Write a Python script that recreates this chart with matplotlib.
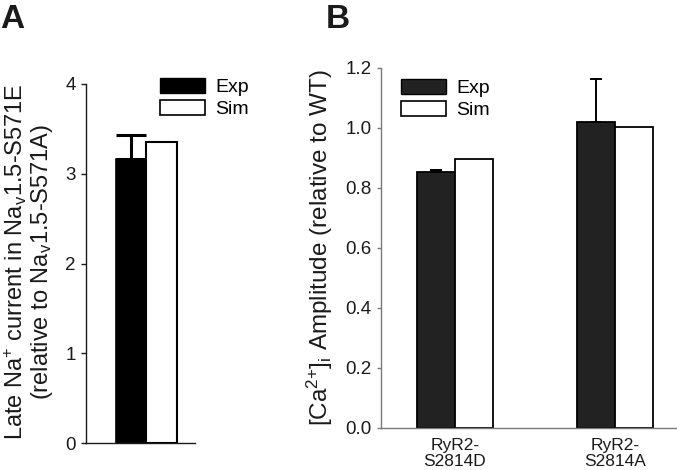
import matplotlib
matplotlib.use("Agg")
import matplotlib.pyplot as plt
from matplotlib.patches import Patch

plt.rcParams["font.family"] = ["Liberation Sans", "DejaVu Sans"]
plt.rcParams["mathtext.fontset"] = "custom"
plt.rcParams["mathtext.rm"] = "Liberation Sans"
plt.rcParams["mathtext.it"] = "Liberation Sans:italic"

# Panel A data
a_exp = 3.16
a_exp_err = 0.27
a_sim = 3.35

# Panel B data
b_groups = ["RyR2-\nS2814D", "RyR2-\nS2814A"]
b_exp = [0.853, 1.02]
b_exp_err = [0.007, 0.143]
b_sim = [0.897, 1.003]

W, H = 677, 470
fig = plt.figure(figsize=(W / 100, H / 100), dpi=100)

def px_axes(l, t, r, b):
    return fig.add_axes([l / W, 1 - b / H, (r - l) / W, (b - t) / H])

# ---------------- Panel A ----------------
axA = px_axes(86, 84, 195, 443)
bw = 1.0
axA.bar([0], [a_exp], width=bw, color="black", edgecolor="black", lw=1.2, zorder=2)
axA.errorbar([0], [a_exp], yerr=[[0], [a_exp_err]], fmt="none", ecolor="black",
             elinewidth=2.2, capsize=11, capthick=2.2, zorder=1)
axA.bar([1], [a_sim], width=bw, color="white", edgecolor="black", lw=1.5, zorder=2)
axA.set_xlim(-1.48, 2.09)
axA.set_ylim(0, 4)
axA.set_yticks([0, 1, 2, 3, 4])
axA.set_xticks([])
for s in ["top", "right"]:
    axA.spines[s].set_visible(False)
for s in ["left", "bottom"]:
    axA.spines[s].set_color("#1a1a1a")
    axA.spines[s].set_linewidth(1.0)
axA.tick_params(axis="y", length=3.5, width=1.0, pad=4, labelsize=13.5, colors="#1a1a1a")
axA.set_ylabel("Late Na$^{+}$ current in Na$_{\\mathregular{v}}$1.5-S571E\n"
               "(relative to Na$_{\\mathregular{v}}$1.5-S571A)",
               fontsize=17, linespacing=1.0, color="#1a1a1a")
axA.yaxis.set_label_coords(-0.284, 0.505)
axA.legend(handles=[Patch(facecolor="black", edgecolor="black", label="Exp"),
                    Patch(facecolor="white", edgecolor="black", lw=1.2, label="Sim")],
           loc="upper left", bbox_to_anchor=(160 / W, 1 - 78 / H),
           bbox_transform=fig.transFigure, frameon=False, fontsize=14,
           handlelength=2.3, handleheight=0.8, handletextpad=0.55,
           labelspacing=0.2, borderpad=0, borderaxespad=0)

# ---------------- Panel B ----------------
axB = px_axes(381, 68, 677, 428)
x = [0, 1]
bwB = 0.2375
axB.bar([i - bwB / 2 for i in x], b_exp, width=bwB, color="#222222",
        edgecolor="black", lw=1.3, zorder=2)
axB.errorbar([i - bwB / 2 for i in x], b_exp, yerr=[[0, 0], b_exp_err], fmt="none",
             ecolor="black", elinewidth=1.4, capsize=4, capthick=1.4, zorder=1)
axB.bar([i + bwB / 2 for i in x], b_sim, width=bwB, color="white",
        edgecolor="black", lw=1.3, zorder=2)
axB.set_xlim(-0.4625, 1.3875)
axB.set_ylim(0, 1.2)
axB.set_yticks([0.0, 0.2, 0.4, 0.6, 0.8, 1.0, 1.2])
axB.set_yticklabels(["0.0", "0.2", "0.4", "0.6", "0.8", "1.0", "1.2"])
axB.set_xticks(x)
axB.set_xticklabels(b_groups, fontsize=12.5, linespacing=1.1, color="#1a1a1a")
for s in ["top", "right"]:
    axB.spines[s].set_visible(False)
for s in ["left", "bottom"]:
    axB.spines[s].set_color("#7a7a7a")
    axB.spines[s].set_linewidth(1.0)
axB.tick_params(axis="y", length=3, width=1.0, pad=4, labelsize=13.5,
                colors="#7a7a7a", labelcolor="#1a1a1a")
axB.tick_params(axis="x", length=0, pad=7)
axB.set_ylabel("[Ca$^{\\mathregular{2{+}}}$]$_{\\mathregular{i}}$ Amplitude (relative to WT)",
               fontsize=17.5, color="#1a1a1a")
axB.yaxis.set_label_coords(-0.155, 0.5)
axB.legend(handles=[Patch(facecolor="#222222", edgecolor="black", label="Exp"),
                    Patch(facecolor="white", edgecolor="black", lw=1.2, label="Sim")],
           loc="upper left", bbox_to_anchor=(401 / W, 1 - 79 / H),
           bbox_transform=fig.transFigure, frameon=False, fontsize=14,
           handlelength=2.3, handleheight=0.8, handletextpad=0.55,
           labelspacing=0.2, borderpad=0, borderaxespad=0)

# panel letters
fig.text(0 / W, 1 - 28 / H, "A", fontsize=24, fontweight="bold", ha="left", va="baseline",
         color="#1a1a1a")
fig.text(326 / W, 1 - 28 / H, "B", fontsize=24, fontweight="bold", ha="left", va="baseline",
         color="#1a1a1a")

fig.savefig("out.png", dpi=100)
